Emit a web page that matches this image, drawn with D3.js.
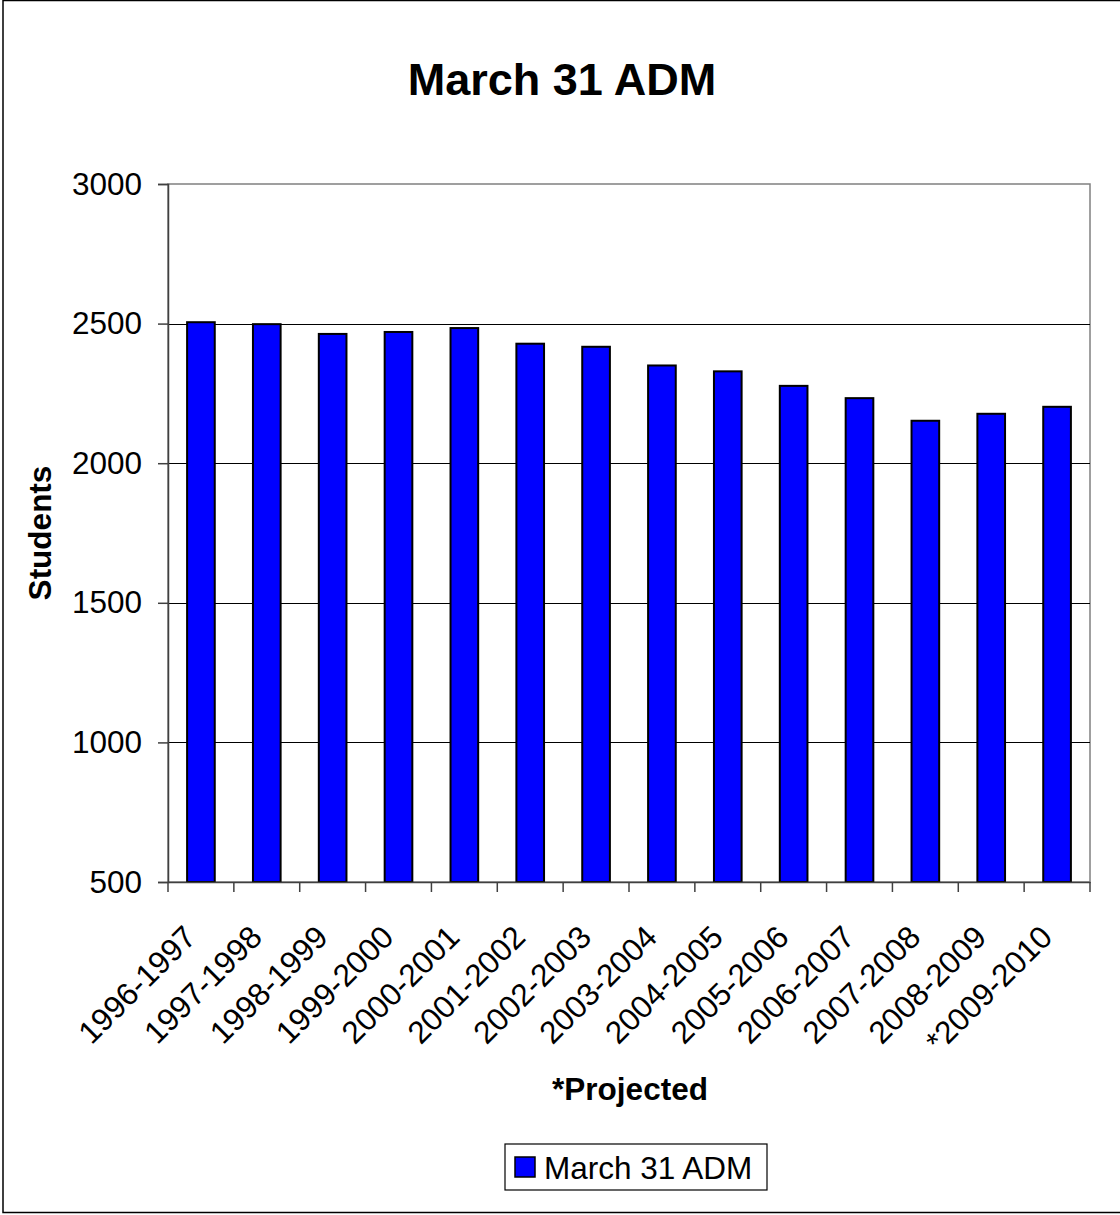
<!DOCTYPE html>
<html>
<head>
<meta charset="utf-8">
<script src="https://cdn.jsdelivr.net/npm/d3@7"></script>
<style>
  html, body { margin: 0; padding: 0; background: #fff; }
  svg { display: block; font-family: Arial, "Liberation Sans", sans-serif; }
</style>
</head>
<body>
<svg id="chart" width="1120" height="1215"></svg>
<script>
const categories = ["1996-1997","1997-1998","1998-1999","1999-2000","2000-2001","2001-2002","2002-2003","2003-2004","2004-2005","2005-2006","2006-2007","2007-2008","2008-2009","*2009-2010"];
const values = [2505, 2498, 2463, 2470, 2484, 2428, 2417, 2350, 2329, 2277, 2233, 2152, 2177, 2202];
const yTicks = [500, 1000, 1500, 2000, 2500, 3000];
const seriesName = "March 31 ADM";
const titleText = "March 31 ADM";
const yLabel = "Students";
const xLabel = "*Projected";

const svg = d3.select("#chart");
const plot = { left: 168, right: 1090, top: 184, bottom: 882 };
const FS = 31.5;

// outer frame
svg.append("rect").attr("x", 3).attr("y", 0.5).attr("width", 1130).attr("height", 1212)
  .attr("fill", "none").attr("stroke", "#000").attr("stroke-width", 1.5);

const x = d3.scaleBand().domain(categories).range([plot.left, plot.right]).paddingInner(0.58).paddingOuter(0.29);
const xb = d3.scaleBand().domain(categories).range([plot.left, plot.right]);
const y = d3.scaleLinear().domain([500, 3000]).range([plot.bottom, plot.top]);

// plot area border (top/right gray)
svg.append("rect").attr("x", plot.left).attr("y", plot.top)
  .attr("width", plot.right - plot.left).attr("height", plot.bottom - plot.top)
  .attr("fill", "none").attr("stroke", "#808080").attr("stroke-width", 1.5);

// gridlines
svg.append("g").selectAll("line").data(yTicks.filter(t => t > 500 && t < 3000)).join("line")
  .attr("x1", plot.left).attr("x2", plot.right)
  .attr("y1", d => Math.round(y(d)) + 0.5).attr("y2", d => Math.round(y(d)) + 0.5)
  .attr("stroke", "#000").attr("stroke-width", 1);

// bars
svg.append("g").selectAll("rect").data(values).join("rect")
  .attr("x", (d, i) => x(categories[i]))
  .attr("y", d => y(d))
  .attr("width", x.bandwidth())
  .attr("height", d => plot.bottom - y(d))
  .attr("fill", "#0000ff").attr("stroke", "#000").attr("stroke-width", 2);

// y axis
const yAxis = d3.axisLeft(y).tickValues(yTicks).tickSize(10).tickPadding(16).tickFormat(d3.format("d"));
const gy = svg.append("g").attr("transform", `translate(${plot.left},0)`).call(yAxis);
gy.select(".domain").attr("stroke", "#404040").attr("stroke-width", 1.5);
gy.selectAll(".tick line").attr("stroke", "#404040").attr("stroke-width", 1.5);
gy.selectAll(".tick text").attr("font-size", FS).attr("fill", "#000")
  .attr("font-family", "Arial, 'Liberation Sans', sans-serif");

// x axis
const xAxis = d3.axisBottom(xb).tickValues([]).tickSizeOuter(0);
const gx = svg.append("g").attr("transform", `translate(0,${plot.bottom})`).call(xAxis);
gx.select(".domain").attr("stroke", "#404040").attr("stroke-width", 1.5);
// tick marks at band boundaries
const bounds = categories.map(c => xb(c)).concat([plot.right]);
svg.append("g").selectAll("line").data(bounds).join("line")
  .attr("x1", d => d).attr("x2", d => d)
  .attr("y1", plot.bottom).attr("y2", plot.bottom + 10)
  .attr("stroke", "#404040").attr("stroke-width", 1.5);

// x labels rotated
svg.append("g").selectAll("text").data(categories).join("text")
  .attr("transform", c => `translate(${xb(c) + xb.bandwidth() / 2 - 3},${plot.bottom + 57}) rotate(-45)`)
  .attr("text-anchor", "end")
  .attr("font-size", FS).attr("fill", "#000")
  .text(c => c);

// title
svg.append("text").attr("x", 562).attr("y", 95).attr("text-anchor", "middle")
  .attr("font-size", 45).attr("font-weight", "bold").text(titleText);

// y label
svg.append("text").attr("transform", `translate(51,533) rotate(-90)`).attr("text-anchor", "middle")
  .attr("font-size", FS).attr("font-weight", "bold").text(yLabel);

// x label
svg.append("text").attr("x", 630).attr("y", 1100).attr("text-anchor", "middle")
  .attr("font-size", FS).attr("font-weight", "bold").text(xLabel);

// legend
const lg = svg.append("g");
lg.append("rect").attr("x", 505).attr("y", 1144).attr("width", 262).attr("height", 46)
  .attr("fill", "#fff").attr("stroke", "#000").attr("stroke-width", 1.2);
lg.append("rect").attr("x", 515).attr("y", 1157).attr("width", 20).attr("height", 20)
  .attr("fill", "#0000ff").attr("stroke", "#000").attr("stroke-width", 1.5);
lg.append("text").attr("x", 544).attr("y", 1179).attr("font-size", FS).text(seriesName);
</script>
</body>
</html>
